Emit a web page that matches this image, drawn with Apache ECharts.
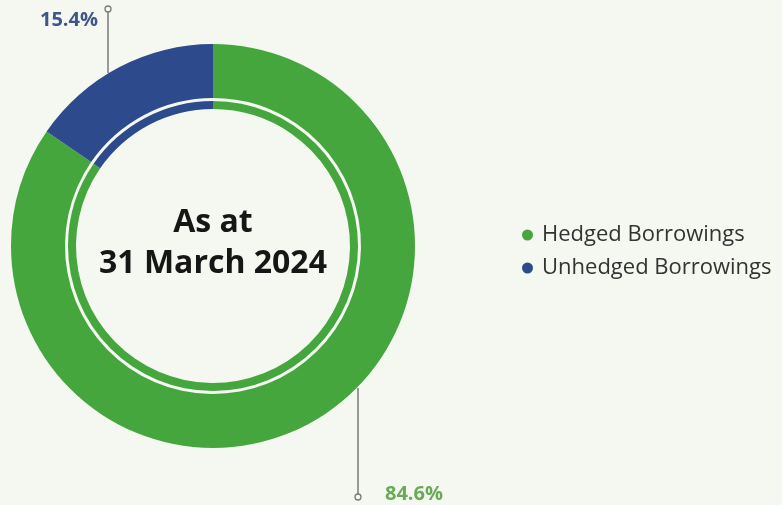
<!DOCTYPE html>
<html>
<head>
<meta charset="utf-8">
<script src="https://cdn.jsdelivr.net/npm/echarts@6/dist/echarts.min.js"></script>
<style>
  html, body { margin: 0; padding: 0; background: #f4f8f1; }
  #chart { width: 782px; height: 505px; }
</style>
</head>
<body>
<div id="chart"></div>
<script>
// Borrowings split at the reporting date (percent of total)
const categories = ['Hedged Borrowings', 'Unhedged Borrowings'];
const shares = [84.6, 15.4];
const colors = ['#44a63d', '#2c4a8c'];
const labelColors = ['#6aa956', '#3e5689'];
const centerLines = ['As at', '31 March 2024'];

const cx = 213, cy = 246;
const outerR = 202, innerR = 148;
const ringOuter = 145, ringInner = 137;

const data = categories.map((name, i) => ({
  name,
  value: shares[i],
  itemStyle: { color: colors[i] }
}));

// Callout annotations: vertical leader lines with a small ring at the end
function callout(x, y1, y2, text, color, tx, ty, align) {
  return [
    { type: 'line', shape: { x1: x, y1: y1, x2: x, y2: y2 },
      style: { stroke: '#7a7a7a', lineWidth: 1.5 }, z: 10 },
    { type: 'circle', shape: { cx: x, cy: y2, r: 3 },
      style: { fill: '#f4f8f1', stroke: '#7a7a7a', lineWidth: 1.3 }, z: 11 },
    { type: 'text', x: tx, y: ty,
      style: { text: text, fill: color, font: 'bold 20px "Open Sans", sans-serif',
               align: align, verticalAlign: 'middle' }, z: 11 }
  ];
}

const fmt = v => v.toFixed(1) + '%';

const chart = echarts.init(document.getElementById('chart'));
chart.setOption({
  backgroundColor: '#f4f8f1',
  animation: false,
  legend: {
    orient: 'vertical',
    left: 517,
    top: 219,
    itemGap: 11,
    icon: 'circle',
    itemWidth: 11,
    itemHeight: 11,
    textStyle: { fontFamily: '"Open Sans", sans-serif', fontSize: 22, color: '#333333', padding: [0, 0, 0, 4] },
    data: categories
  },
  series: [
    {
      type: 'pie',
      center: [cx, cy],
      radius: [innerR, outerR],
      startAngle: 90,
      clockwise: true,
      label: { show: false },
      labelLine: { show: false },
      emphasis: { disabled: true },
      data: data
    },
    {
      type: 'pie',
      center: [cx, cy],
      radius: [ringInner, ringOuter],
      startAngle: 90,
      clockwise: true,
      silent: true,
      legendHoverLink: false,
      label: { show: false },
      labelLine: { show: false },
      emphasis: { disabled: true },
      data: data.map(d => Object.assign({}, d))
    }
  ],
  graphic: [
    { type: 'text', x: cx, y: cy - 23,
      style: { text: centerLines[0], fill: '#161616', font: 'bold 32px "Open Sans", sans-serif',
               align: 'center', verticalAlign: 'middle' } },
    { type: 'text', x: cx, y: cy + 18,
      style: { text: centerLines[1], fill: '#161616', font: 'bold 32px "Open Sans", sans-serif',
               align: 'center', verticalAlign: 'middle' } }
  ]
    .concat(callout(108, 73, 9, fmt(shares[1]), labelColors[1], 98, 20, 'right'))
    .concat(callout(358, 388, 497, fmt(shares[0]), labelColors[0], 385, 494, 'left'))
});
</script>
</body>
</html>
